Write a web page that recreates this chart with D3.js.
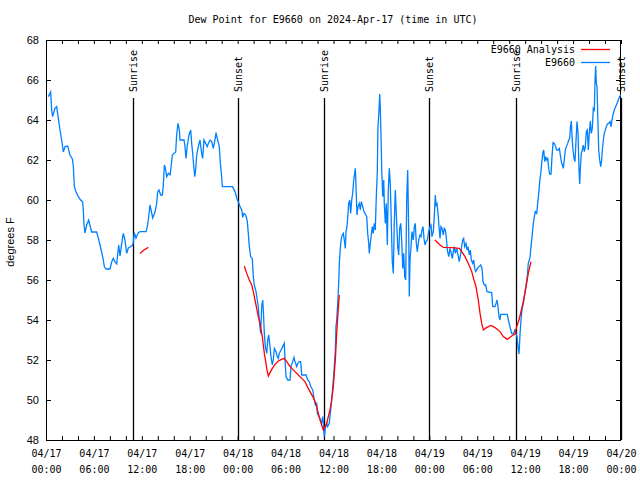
<!DOCTYPE html>
<html><head><meta charset="utf-8">
<script src="https://cdn.jsdelivr.net/npm/d3@7"></script>
<style>body{margin:0;background:#fff}svg{display:block}</style>
</head><body>
<svg id="c" width="640" height="480"></svg>
<script>
// ---- data (hours since 2024-04-17 00:00 UTC) ----
const blueHours = [0.29,0.58,0.71,0.83,1.13,1.34,1.54,1.75,1.96,2.17,2.38,2.71,3.0,3.30,3.42,3.55,3.76,4.05,4.34,4.59,4.67,4.76,4.88,5.09,5.34,5.59,5.72,6.34,6.55,6.76,6.97,7.18,7.30,7.51,8.01,8.22,8.43,8.64,8.85,8.97,9.10,9.27,9.48,9.68,9.89,10.10,10.31,10.52,10.85,10.94,11.06,11.27,11.56,11.77,12.52,12.69,12.81,13.02,13.15,13.36,13.65,13.86,13.98,14.15,14.36,14.57,14.69,14.82,14.94,15.11,15.32,15.53,15.65,15.82,16.03,16.24,16.36,16.53,16.70,16.78,17.28,17.41,17.53,17.70,17.91,18.12,18.24,18.37,18.49,18.62,18.74,18.87,19.07,19.28,19.49,19.62,19.78,19.99,20.20,20.33,20.54,20.75,20.95,21.16,21.29,21.45,21.70,21.83,21.96,22.08,23.38,23.45,23.67,23.79,23.95,24.08,24.29,24.51,24.63,24.79,25.01,25.21,25.33,25.46,25.63,25.83,25.96,26.08,26.30,26.46,26.58,26.67,26.80,26.88,27.01,27.14,27.21,27.34,27.46,27.64,27.76,27.89,28.05,28.17,28.34,28.46,28.59,28.80,28.96,29.09,29.21,29.43,29.64,29.84,29.93,30.05,30.27,30.55,30.68,30.89,31.05,31.18,31.39,31.52,31.72,31.89,32.02,32.56,32.77,32.97,33.15,33.40,33.60,33.73,33.90,33.97,34.19,34.31,34.52,34.65,34.77,34.85,34.97,35.15,35.27,35.47,35.69,35.81,35.98,36.10,36.23,36.31,36.40,36.53,36.65,36.73,36.85,36.98,37.10,37.23,37.35,37.48,37.57,37.69,37.82,37.90,38.03,38.15,38.28,38.40,38.53,38.65,38.73,38.82,38.94,39.07,39.23,39.36,39.48,39.66,39.82,40.16,40.28,40.41,40.48,40.61,40.73,40.86,40.98,41.11,41.23,41.36,41.48,41.57,41.70,41.79,41.86,41.95,42.04,42.16,42.29,42.36,42.49,42.61,42.74,42.86,42.99,43.11,43.24,43.36,43.49,43.61,43.74,43.86,44.04,44.16,44.29,44.42,44.54,44.67,44.79,44.92,45.04,45.17,45.29,45.42,45.49,45.58,45.71,45.83,45.99,46.12,46.24,46.37,46.49,46.67,46.83,46.96,47.08,47.21,47.33,47.46,47.58,47.75,47.92,48.08,48.21,48.33,48.50,48.62,48.75,48.84,48.96,49.09,49.21,49.34,49.46,49.59,49.75,49.87,50.00,50.12,50.25,50.43,50.59,50.75,50.88,51.00,51.13,51.25,51.43,51.59,51.75,51.93,52.05,52.18,52.30,52.43,52.59,52.72,52.84,53.01,53.13,53.26,53.43,53.56,53.68,53.81,54.01,54.22,54.43,54.60,54.72,54.88,55.06,55.22,55.81,55.94,56.22,56.35,56.47,56.60,56.72,56.85,56.94,57.76,57.89,58.10,58.31,58.51,58.72,58.85,58.98,59.10,59.23,59.35,59.48,59.60,59.77,60.02,60.27,60.39,60.61,60.73,60.86,61.02,61.15,61.27,61.45,61.57,61.70,61.82,61.95,62.07,62.20,62.32,62.45,62.57,62.70,62.82,62.95,63.07,63.24,63.36,63.49,63.65,63.82,63.95,64.11,64.28,64.40,64.53,64.65,64.78,64.90,65.03,65.15,65.33,65.45,65.58,65.65,65.78,65.87,65.99,66.12,66.24,66.37,66.49,66.62,66.74,66.83,66.91,67.03,67.16,67.28,67.41,67.53,67.66,67.78,67.91,68.03,68.16,68.28,68.41,68.53,68.66,68.75,68.83,68.91,69.00,69.08,69.21,69.33,69.46,69.58,69.66,69.79,69.91,70.04,70.16,70.29,70.46,70.63,70.75,70.87,71.00,71.16,71.34,71.50,71.66,71.83,72.0];
const blueValues = [65.17,65.4,64.5,64.17,64.6,64.67,64.08,63.5,63.0,62.4,62.67,62.7,62.25,62.05,61.7,60.67,60.4,60.17,60.0,59.9,59.5,58.75,58.35,58.75,59.0,58.6,58.4,58.4,58.1,57.75,57.4,57.0,56.67,56.55,56.55,56.9,57.08,56.9,56.8,57.25,57.75,57.2,57.83,58.33,58.0,57.33,57.6,57.65,57.75,57.9,58.37,58.1,58.37,58.42,58.42,58.67,59.0,59.75,59.5,59.1,59.4,59.83,60.4,60.5,60.25,60.25,60.75,61.75,61.6,61.17,61.33,61.25,61.6,62.25,62.33,62.4,63.25,63.83,63.5,63.0,63.0,62.67,62.08,62.75,63.25,63.5,62.83,62.33,61.75,61.17,61.5,62.25,62.67,63.0,62.33,62.08,63.0,62.83,62.67,62.83,63.0,62.92,62.58,63.0,63.37,63.08,62.67,61.83,61.33,60.67,60.67,60.58,60.42,60.25,60.0,59.92,59.67,59.5,59.13,59.33,59.25,58.92,58.33,57.67,57.17,57.08,56.17,55.75,55.42,55.0,54.67,54.17,53.67,53.33,54.67,55.0,54.5,53.33,52.67,52.33,53.0,53.25,52.67,52.17,51.75,52.0,52.58,52.42,52.17,52.08,52.33,52.5,52.67,52.83,52.0,51.17,51.0,51.0,51.67,51.92,52.13,51.92,51.67,51.83,51.92,51.92,51.25,51.25,51.0,50.92,50.67,50.5,50.0,49.75,49.83,49.33,49.17,49.08,48.83,49.17,48.67,48.17,48.58,48.83,48.67,48.83,49.67,50.17,51.0,51.67,52.5,53.67,54.0,54.83,55.83,56.83,57.58,58.08,58.25,58.33,58.0,57.58,58.42,58.67,59.33,59.83,60.0,59.33,60.0,60.33,61.0,61.33,61.58,60.67,59.25,59.67,59.83,59.5,59.92,59.67,59.42,59.17,58.33,57.83,57.33,57.83,58.25,58.67,58.33,58.83,58.5,60.17,61.33,63.67,64.5,65.3,64.58,63.17,61.5,60.17,61.0,59.83,58.83,59.83,57.75,60.5,61.58,60.83,58.83,56.92,56.33,58.83,60.5,59.33,57.67,57.25,58.58,58.83,58.0,56.58,57.33,56.17,56.0,60.08,61.5,58.33,55.17,57.0,57.67,58.42,58.0,58.67,58.83,57.83,57.42,58.0,58.25,58.17,58.5,58.67,58.08,57.75,57.92,58.0,58.42,58.67,58.75,58.17,58.42,59.17,60.25,59.75,59.83,59.33,58.67,58.08,58.67,58.58,58.25,58.58,58.5,58.17,57.5,57.17,57.58,57.33,57.08,57.42,57.67,57.33,57.58,57.25,56.92,57.33,57.67,58.0,58.08,57.67,57.83,57.5,57.67,57.25,57.5,57.0,56.83,57.0,56.58,56.42,56.58,56.67,56.75,56.58,55.92,55.75,55.75,55.42,55.37,54.67,54.67,54.83,55.0,54.67,54.17,54.0,54.28,54.28,54.0,53.67,53.33,53.3,53.5,53.33,53.17,52.67,52.3,53.25,54.0,54.5,54.83,55.5,56.17,56.83,57.13,57.67,58.17,58.83,59.17,59.42,59.33,59.83,60.33,60.92,61.33,61.83,62.33,62.5,61.92,62.17,62.0,62.08,61.58,61.3,61.3,62.17,62.87,62.83,62.67,62.5,62.5,62.58,62.25,61.92,61.75,61.58,62.0,62.5,62.67,62.83,63.0,63.08,63.58,63.95,63.17,62.5,62.08,61.92,63.0,63.92,63.33,61.5,60.8,61.58,62.33,62.5,62.75,62.42,62.67,63.42,63.5,62.5,63.33,63.95,63.33,63.58,64.58,64.5,66.0,66.7,65.83,65.67,64.33,62.5,62.0,61.67,62.0,62.5,63.0,63.33,63.5,63.67,63.8,63.83,63.92,63.67,64.0,64.25,64.5,64.67,64.83,65.0,65.17,65.25];
const redHours = [11.77,12.27,12.81,null,24.83,25.13,25.46,25.76,25.96,26.17,26.38,26.58,26.80,26.92,27.09,27.21,27.34,27.51,27.67,27.84,28.05,28.34,28.68,29.09,29.51,29.84,30.14,30.43,30.77,31.18,31.59,32.02,32.43,32.72,33.06,33.40,33.68,33.90,34.10,34.31,34.52,34.72,34.94,35.15,35.35,35.56,35.77,35.98,36.10,36.23,36.40,36.53,36.65,36.73,null,48.71,49.34,49.75,50.80,51.75,52.05,52.47,52.88,53.31,53.59,53.84,54.13,54.35,54.56,54.76,55.19,55.72,56.22,56.85,57.26,57.76,58.31,58.73,58.94,59.23,59.57,59.85,60.11,60.39,60.73];
const redValues = [57.33,57.5,57.63,null,56.7,56.33,56.0,55.75,55.42,55.0,54.58,54.17,53.83,53.5,53.17,52.75,52.33,51.92,51.5,51.2,51.37,51.58,51.78,51.95,52.03,52.08,51.92,51.75,51.58,51.42,51.25,51.08,50.92,50.67,50.42,50.17,49.92,49.67,49.33,49.0,48.75,48.5,48.67,48.83,49.17,49.5,50.0,50.67,51.33,52.0,53.33,54.17,54.83,55.25,null,58.0,57.75,57.63,57.62,57.58,57.42,57.17,56.83,56.42,56.0,55.67,55.0,54.33,53.83,53.5,53.63,53.73,53.62,53.42,53.17,53.03,53.2,53.3,53.67,54.0,54.58,55.08,55.67,56.33,56.92];
const sunHours = [10.9, 23.98, 34.87, 47.99, 58.85, 72.0];
const sunLabels = ["Sunrise","Sunset","Sunrise","Sunset","Sunrise","Sunset"];
const yTicks = [48,50,52,54,56,58,60,62,64,66,68];
const xMajorHours = [0,6,12,18,24,30,36,42,48,54,60,66,72];
const xMinorStep = 2;
const seriesNames = ["E9660 Analysis","E9660"];
const title = "Dew Point for E9660 on 2024-Apr-17 (time in UTC)";

// ---- drawing ----
const t0 = Date.UTC(2024,3,17);
const toDate = h => new Date(t0 + h*3600000);
const L=46,R=621,T=40,B=440;
const svg = d3.select("#c");
const mono = "DejaVu Sans Mono, monospace";
const sans = "Liberation Sans, Arial, sans-serif";
const x = d3.scaleUtc().domain([toDate(0),toDate(72)]).range([L,R]);
const y = d3.scaleLinear().domain([48,68]).range([B,T]);

svg.append("rect").attr("width",640).attr("height",480).attr("fill","#fff");
svg.append("defs").append("clipPath").attr("id","clip").append("rect")
  .attr("x",L).attr("y",T).attr("width",R-L).attr("height",B-T);

const minor = d3.range(0,73,xMinorStep).map(toDate);
const major = xMajorHours.map(toDate);
const fD = d3.utcFormat("%m/%d"), fT = d3.utcFormat("%H:%M");

const gb = svg.append("g").attr("transform",`translate(0,${B})`)
  .call(d3.axisBottom(x).tickValues(minor).tickSize(-4).tickFormat(""));
const gt = svg.append("g").attr("transform",`translate(0,${T})`)
  .call(d3.axisTop(x).tickValues(minor).tickSize(-4).tickFormat(""));
const gl = svg.append("g").attr("transform",`translate(${L},0)`)
  .call(d3.axisLeft(y).tickValues(yTicks).tickSize(-5).tickFormat(""));
const gr = svg.append("g").attr("transform",`translate(${R},0)`)
  .call(d3.axisRight(y).tickValues(yTicks).tickSize(-5).tickFormat(""));
[gb,gt,gl,gr].forEach(g=>{g.select(".domain").remove();g.selectAll("line").attr("stroke","#000");});

const gxl = svg.append("g").attr("transform",`translate(0,${B})`)
  .call(d3.axisBottom(x).tickValues(major).tickSize(0).tickFormat(""));
gxl.select(".domain").remove();
gxl.selectAll(".tick").each(function(d){
  const t = d3.select(this).append("text").attr("fill","#000")
    .attr("font-family",mono).attr("font-size",10).attr("text-anchor","middle");
  t.append("tspan").attr("x",0).attr("y",17).text(fD(d));
  t.append("tspan").attr("x",0).attr("y",33).text(fT(d));
});
const gyl = svg.append("g").attr("transform",`translate(${L},0)`)
  .call(d3.axisLeft(y).tickValues(yTicks).tickSize(0).tickPadding(7).tickFormat(d3.format("d")));
gyl.select(".domain").remove();
gyl.selectAll("text").attr("font-family",sans).attr("font-size",11).attr("fill","#000");

svg.append("rect").attr("x",L+0.5).attr("y",T+0.5).attr("width",R-L-1).attr("height",B-T)
  .attr("fill","none").attr("stroke","#000");

svg.append("text").attr("x",333).attr("y",23).attr("text-anchor","middle")
  .attr("font-family",mono).attr("font-size",10).text(title);
svg.append("text").attr("transform","translate(14,242) rotate(-90)").attr("text-anchor","middle")
  .attr("font-family",sans).attr("font-size",11).text("degrees F");

sunHours.forEach((h,i)=>{
  const xp = Math.round(x(toDate(h)))+0.5;
  svg.append("line").attr("x1",xp).attr("x2",xp).attr("y1",98).attr("y2",B)
    .attr("stroke","#000").attr("stroke-width",1.3);
  svg.append("text").attr("transform",`translate(${xp},92) rotate(-90)`)
    .attr("dy","0.35em").attr("font-family",mono).attr("font-size",10).text(sunLabels[i]);
});

const blue = blueHours.map((h,i)=>({t:toDate(h),v:blueValues[i]}));
const red = redHours.map((h,i)=>({t:h==null?null:toDate(h),v:redValues[i]}));
const line = d3.line().defined(d=>d.v!=null).x(d=>x(d.t)).y(d=>y(d.v));
const plot = svg.append("g").attr("clip-path","url(#clip)");
plot.append("path").datum(blue).attr("d",line).attr("fill","none").attr("stroke","#0080ff").attr("stroke-width",1.3);
plot.append("path").datum(red).attr("d",line).attr("fill","none").attr("stroke","#ff0000").attr("stroke-width",1.3);

const legColors = ["#ff0000","#0080ff"];
seriesNames.forEach((n,i)=>{
  const yy = 49.5 + i*13;
  svg.append("text").attr("x",575).attr("y",yy).attr("dy","0.35em").attr("text-anchor","end")
    .attr("font-family",mono).attr("font-size",10).text(n);
  svg.append("line").attr("x1",581).attr("x2",610).attr("y1",yy).attr("y2",yy)
    .attr("stroke",legColors[i]).attr("stroke-width",1.3);
});
</script></body></html>
